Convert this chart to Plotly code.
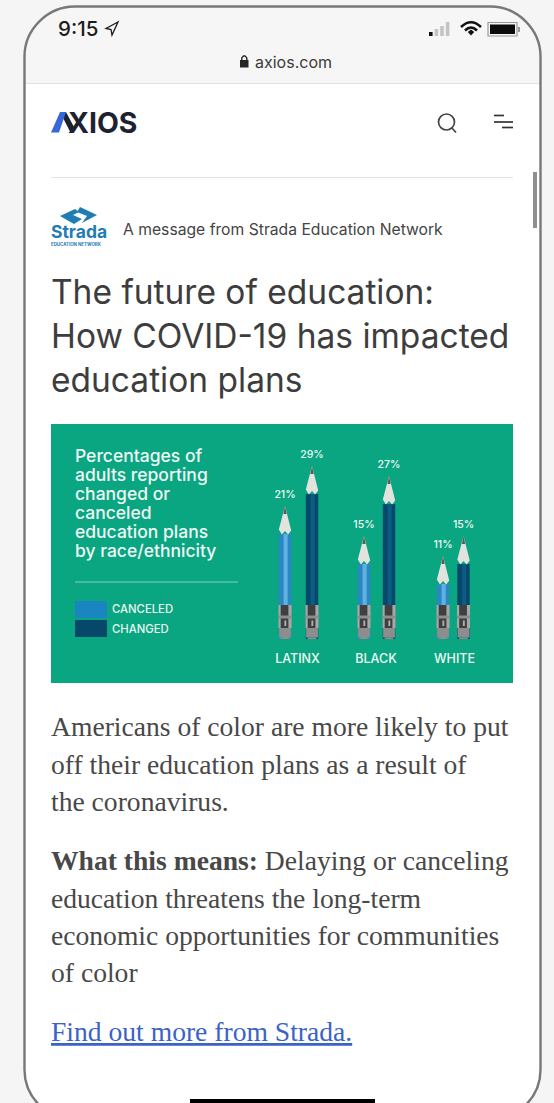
import plotly.graph_objects as go

W, H = 554, 1103

# ---- chart data ----
groups = ["LATINX", "BLACK", "WHITE"]
canceled = [21, 15, 11]
changed = [29, 27, 15]

# ---- pencil placement on the x axis (1 unit = one group step) ----
canceled_x = [-0.159, 0.847, 1.854]
changed_x = [0.185, 1.166, 2.115]
PX_PER_UNIT_X = 78.5
X0_PX = 297.5
PX_PER_PCT = 5.0
BASE_PX = 639
AX_LEFT, AX_RIGHT, AX_TOP = 270, 513, 430
PENCIL_W = 12.4 / PX_PER_UNIT_X
TIP_H = 28 / PX_PER_PCT
LEAD_H = 8 / PX_PER_PCT
LABEL_GAP = 11 / PX_PER_PCT
FERRULE_TOP = (BASE_PX - 605) / PX_PER_PCT
ERASER_TOP = (BASE_PX - 628) / PX_PER_PCT

SANS = "Inter, 'Liberation Sans', sans-serif"
SERIF = "'Liberation Serif', serif"
INK = "#3d3d3d"
BODY = "#484848"


def fx(px):
    return px / W


def fy(px):
    return 1 - px / H


annotations = []
shapes = []


def text(x, y, s, size, color=INK, family=SANS, anchor="left", weight=400):
    annotations.append(dict(
        xref="paper", yref="paper", x=fx(x), y=fy(y), text=s, showarrow=False,
        xanchor=anchor, yanchor="middle", align=anchor,
        font=dict(size=size, color=color, family=family, weight=weight),
        borderpad=0, borderwidth=0,
    ))


def rect(x0, y0, x1, y1, fill, layer="below"):
    shapes.append(dict(type="rect", xref="paper", yref="paper",
                       x0=fx(x0), x1=fx(x1), y0=fy(y0), y1=fy(y1),
                       fillcolor=fill, line=dict(width=0), layer=layer))


def to_path(cmds):
    """Build an SVG path in paper coordinates from pixel commands."""
    out = []
    for c in cmds:
        if isinstance(c, str):
            out.append(c)
        else:
            out.append(f"{fx(c[0]):.5f},{fy(c[1]):.5f}")
    return " ".join(out)


def path(cmds, fill=None, line=None, width=0, layer="below"):
    shapes.append(dict(type="path", xref="paper", yref="paper", path=to_path(cmds),
                       fillcolor=fill or "rgba(0,0,0,0)",
                       line=dict(color=line or "rgba(0,0,0,0)", width=width),
                       layer=layer))


# ---- phone frame and browser chrome ----
L, R, T, B, RAD = 24.5, 540.5, 6.5, 1120, 50
K = RAD * 0.54
frame = ["M", (L, T + RAD), "C", (L, T + RAD - K), (L + RAD - K, T), (L + RAD, T),
         "L", (R - RAD, T), "C", (R - RAD + K, T), (R, T + RAD - K), (R, T + RAD),
         "L", (R, B - RAD), "C", (R, B - RAD + K), (R - RAD + K, B), (R - RAD, B),
         "L", (L + RAD, B), "C", (L + RAD - K, B), (L, B - RAD + K), (L, B - RAD), "Z"]
path(frame, fill="#ffffff")
chrome = ["M", (L, 83), "L", (L, T + RAD), "C", (L, T + RAD - K), (L + RAD - K, T), (L + RAD, T),
          "L", (R - RAD, T), "C", (R - RAD + K, T), (R, T + RAD - K), (R, T + RAD), "L", (R, 83), "Z"]
path(chrome, fill="#f6f6f6")
rect(L, 83, R, 84, "#e2e2e2")
path(frame, line="#787878", width=2.4, layer="above")

# status bar
text(58, 28, "9:15", 20.5, "#1c1c1c", weight=500)
path(["M", (106, 28.5), "L", (118, 22), "L", (112, 35), "L", (111, 29.5), "Z"], line="#1c1c1c", width=1.3)
for i, (h, col) in enumerate(zip([4, 7, 10, 14], ["#111", "#c4c4c4", "#c4c4c4", "#c4c4c4"])):
    rect(429 + i * 5.6, 36 - h, 432.6 + i * 5.6, 36, col)
# wifi glyph: two arcs over a small wedge
path(["M", (461, 27), "Q", (471, 17.5), (481, 27)], line="#111", width=2.6)
path(["M", (465, 30.5), "Q", (471, 24.5), (477, 30.5)], line="#111", width=2.6)
path(["M", (467.8, 32), "L", (471, 29.5), "L", (474.2, 32), "L", (471, 35.5), "Z"], fill="#111")
shapes.append(dict(type="rect", xref="paper", yref="paper", x0=fx(488), x1=fx(517), y0=fy(22.5), y1=fy(36),
                   line=dict(color="#9a9a9a", width=1.2), fillcolor="rgba(0,0,0,0)", layer="below"))
rect(490, 24.5, 515, 34, "#0c0c0c")
rect(518, 27, 520, 32, "#9a9a9a")

# address bar
rect(240, 60, 248.5, 67.5, "#262626")
path(["M", (241.8, 60), "L", (241.8, 58), "Q", (244.2, 53.5), (246.8, 58), "L", (246.8, 60)], line="#262626", width=1.4)
text(255, 62, "axios.com", 16, "#3a3a3a")

# masthead
path(["M", (60, 112), "L", (66, 112), "L", (74, 127), "L", (70.5, 132.5), "Z"], fill="#1d2230")
path(["M", (51, 132.5), "L", (59, 132.5), "L", (66, 112), "L", (60, 112), "Z"], fill="#3868d8")
text(68, 122, "<b>XIOS</b>", 28.4, "#1d2230", weight=800)
shapes.append(dict(type="circle", xref="paper", yref="paper", x0=fx(438.5), x1=fx(454.5), y0=fy(114), y1=fy(130),
                   line=dict(color="#444", width=1.7), fillcolor="rgba(0,0,0,0)", layer="below"))
path(["M", (451.5, 127.5), "L", (456, 132.5)], line="#444", width=1.7)
for x0, x1, y_ in [(494, 504, 115.5), (494, 513, 122), (502, 513, 127.5)]:
    path(["M", (x0, y_), "L", (x1, y_)], line="#333", width=1.7)

rect(51, 177, 513, 178, "#e4e4e4")
rect(533, 172, 537, 228, "#8f8f8f")

# sponsor block
path(["M", (60, 216), "L", (75, 209), "L", (79, 212), "L", (73, 215), "L", (82, 219), "L", (74, 224), "Z"], fill="#1f7db3")
path(["M", (80, 207), "L", (97, 215), "L", (82, 223), "L", (87, 216), "L", (77, 212), "Z"], fill="#1f7db3")
text(50.5, 232, "<b>Strada</b>", 17.5, "#1f7db3")
text(51, 245, "<b>EDUCATION NETWORK</b>", 4.4, "#1f7db3")
text(123, 229, "A message from Strada Education Network", 15.7, "#444444")

# headline
for y_, s in zip([292, 336, 380],
                  ["The future of education:", "How COVID-19 has impacted", "education plans"]):
    text(51, y_, s, 33.5, INK)

# ---- graphic panel ----
rect(51, 424, 513, 683, "#0aa581")
for y_, s in zip([456, 475, 494, 513, 532, 551],
                 ["Percentages of", "adults reporting", "changed or", "canceled", "education plans", "by race/ethnicity"]):
    text(75, y_, s, 17.5, "#f0f8f5", SANS, weight=500)
rect(75, 581.5, 238, 582.5, "rgba(255,255,255,0.5)")
rect(75, 601, 107, 618, "#1b85c2")
rect(75, 620, 107, 637, "#05486a")
text(112, 609, "CANCELED", 11.3, "#e8f5f0", SANS, weight=500)
text(112, 628.5, "CHANGED", 11.3, "#e8f5f0", SANS, weight=500)

# ---- pencils ----
fig = go.Figure()


def add_bars(xs, values, name, body, stripe):
    fig.add_bar(x=xs, y=values, width=PENCIL_W, name=name, marker=dict(color=body, line=dict(width=0)),
                showlegend=False, hoverinfo="skip")
    fig.add_bar(x=[v + PENCIL_W * 0.05 for v in xs], y=values, width=PENCIL_W * 0.33, name=name + " highlight",
                marker=dict(color=stripe, line=dict(width=0)), showlegend=False, hoverinfo="skip")


def add_tips(xs, values):
    half = PENCIL_W / 2
    for x_, v in zip(xs, values):
        wave = [0.9, -0.1, 0.6, -0.1, 0.7]
        bx = [x_ - half + PENCIL_W * i / 4 for i in range(5)]
        by = [v + d for d in wave]
        fig.add_scatter(x=bx + [x_, bx[0]], y=by + [v + TIP_H, by[0]], mode="lines", fill="toself",
                        fillcolor="#e2e2df", line=dict(width=0), showlegend=False, hoverinfo="skip")
        lead = 0.26
        fig.add_scatter(x=[x_ - half * lead, x_, x_ + half * lead, x_ - half * lead],
                        y=[v + TIP_H - LEAD_H, v + TIP_H, v + TIP_H - LEAD_H, v + TIP_H - LEAD_H],
                        mode="lines", fill="toself", fillcolor="#585858", line=dict(width=0),
                        showlegend=False, hoverinfo="skip")


add_bars(canceled_x, canceled, "Canceled", "#2a87c4", "#5fb2e0")
add_bars(changed_x, changed, "Changed", "#05486b", "#0c5c84")
add_tips(canceled_x, canceled)
add_tips(changed_x, changed)

# value labels sit just above each pencil point
for xs, values in [(canceled_x, canceled), (changed_x, changed)]:
    fig.add_scatter(x=xs, y=[v + TIP_H + LABEL_GAP for v in values], mode="text",
                    text=[f"{v}%" for v in values], textposition="middle center",
                    textfont=dict(size=10.5, color="#f2faf7", family=SANS, weight=500),
                    showlegend=False, hoverinfo="skip")

# ferrule and eraser sit over the lower end of every pencil
for x_ in canceled_x + changed_x:
    half = PENCIL_W / 2
    common = dict(type="rect", xref="x", yref="y", layer="above", line=dict(width=0))
    # eraser, slightly narrowed at the foot
    shapes.append(dict(common, x0=x_ - half * 0.95, x1=x_ + half * 0.95, y0=0.3, y1=ERASER_TOP, fillcolor="#8d8d8d"))
    shapes.append(dict(common, x0=x_ - half * 0.7, x1=x_ + half * 0.7, y0=0, y1=0.3, fillcolor="#8d8d8d"))
    # metal band with dark crimps and bright edges
    shapes.append(dict(common, x0=x_ - half * 1.05, x1=x_ + half * 1.05, y0=ERASER_TOP, y1=FERRULE_TOP, fillcolor="#a8a8a8"))
    shapes.append(dict(common, x0=x_ - half * 0.7, x1=x_ + half * 0.55, y0=ERASER_TOP, y1=FERRULE_TOP, fillcolor="#3f3f3f"))
    shapes.append(dict(common, x0=x_ - half * 1.05, x1=x_ + half * 1.05, y0=ERASER_TOP + 1.9, y1=ERASER_TOP + 2.5, fillcolor="#8e8e8e"))
    shapes.append(dict(common, x0=x_ - half * 0.1, x1=x_ + half * 0.2, y0=ERASER_TOP + 0.4, y1=ERASER_TOP + 1.5, fillcolor="#b0b0b0"))

rect(190, 1099, 375, 1104, "#000000", layer="above")

# ---- article text ----
SIZE = 27.6
for y_, s in [(726.5, "Americans of color are more likely to put"),
              (764.5, "off their education plans as a result of"),
              (801.5, "the coronavirus."),
              (860.5, "<b>What this means:</b> Delaying or canceling"),
              (898.5, "education threatens the long-term"),
              (935.5, "economic opportunities for communities"),
              (972.5, "of color")]:
    text(51, y_, s, SIZE, BODY, SERIF)
text(51, 1031.5, "<u>Find out more from Strada.</u>", SIZE, "#3b62c6", SERIF)

fig.update_layout(
    width=W, height=H, margin=dict(l=0, r=0, t=0, b=0), autosize=False,
    paper_bgcolor="#f5f5f5", plot_bgcolor="rgba(0,0,0,0)", barmode="overlay",
    shapes=shapes, annotations=annotations, showlegend=False,
    xaxis=dict(domain=[fx(AX_LEFT), fx(AX_RIGHT)],
               range=[(AX_LEFT - X0_PX) / PX_PER_UNIT_X, (AX_RIGHT - X0_PX) / PX_PER_UNIT_X],
               tickmode="array", tickvals=[0, 1, 2], ticktext=groups,
               tickfont=dict(size=12.5, color="#eef8f4", family=SANS, weight=500),
               ticks="outside", ticklen=8, tickcolor="rgba(0,0,0,0)",
               showgrid=False, zeroline=False, showline=False, fixedrange=True),
    yaxis=dict(domain=[fy(BASE_PX), fy(AX_TOP)], range=[0, (BASE_PX - AX_TOP) / PX_PER_PCT],
               visible=False, showgrid=False, zeroline=False, fixedrange=True),
)

fig.write_html("out.html", config=dict(displayModeBar=False))
